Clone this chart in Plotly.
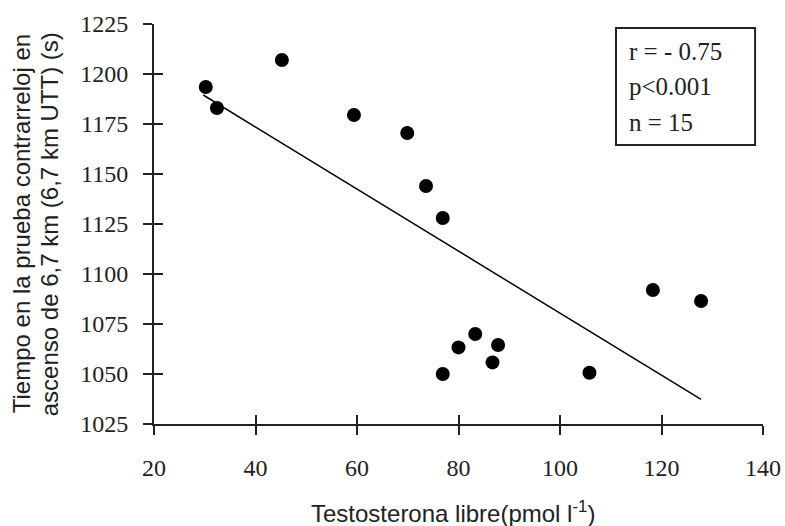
import plotly.graph_objects as go

# Data
testosterona = [30.2, 32.4, 45.2, 59.4, 69.9, 73.6, 76.9, 76.9, 80.0, 83.3, 87.8, 86.7, 105.8, 118.3, 127.8]
tiempo = [1193.5, 1183, 1207, 1179.5, 1170.5, 1144, 1128, 1050, 1063.3, 1070, 1064.5, 1055.8, 1050.6, 1092, 1086.5]
fit_x = [29.7, 127.8]
fit_y = [1189.5, 1037.3]
x_ticks = [20, 40, 60, 80, 100, 120, 140]
y_ticks = [1025, 1050, 1075, 1100, 1125, 1150, 1175, 1200, 1225]
stats_lines = ["r = - 0.75", "p&lt;0.001", "n = 15"]
x_title = "Testosterona libre(pmol l<sup>-1</sup>)"
y_title_lines = ["Tiempo en la prueba contrarreloj en", "ascenso de 6,7 km (6,7 km UTT) (s)"]

SERIF = "Liberation Serif"
SANS = "Liberation Sans"

fig = go.Figure()
fig.add_trace(go.Scatter(x=fit_x, y=fit_y, mode="lines",
                         line=dict(color="black", width=1.5), showlegend=False, hoverinfo="skip"))
fig.add_trace(go.Scatter(x=testosterona, y=tiempo, mode="markers",
                         marker=dict(color="black", size=14), showlegend=False))
# invisible trace on overlay axes (for inside tick marks)
fig.add_trace(go.Scatter(x=[x_ticks[0]], y=[y_ticks[0]], xaxis="x2", yaxis="y2",
                         mode="markers", marker=dict(opacity=0), showlegend=False, hoverinfo="skip"))

axis_common = dict(showgrid=False, zeroline=False, showline=True, linecolor="#222",
                   linewidth=2, tickcolor="#222", tickwidth=1.5, ticklen=9, automargin=False)

fig.update_layout(
    width=785, height=526,
    margin=dict(l=154, r=22, t=24, b=102),
    paper_bgcolor="white", plot_bgcolor="white",
    xaxis=dict(range=[20, 140], tickvals=x_ticks, ticks="outside",
               tickfont=dict(family=SERIF, size=24, color="#222"),
               ticklabelstandoff=12, **axis_common),
    yaxis=dict(range=[1025, 1225], tickvals=y_ticks, ticks="outside",
               tickfont=dict(family=SERIF, size=24, color="#222"),
               ticklabelstandoff=10, **axis_common),
    xaxis2=dict(range=[20, 140], tickvals=x_ticks, ticks="inside", overlaying="x",
                anchor="y2", side="bottom", showticklabels=False, **axis_common),
    yaxis2=dict(range=[1025, 1225], tickvals=y_ticks, ticks="inside", overlaying="y",
                anchor="x2", side="left", showticklabels=False, **axis_common),
)

# stats box
fig.add_shape(type="rect", xref="paper", yref="paper", x0=0.7586, x1=0.987, y0=0.6975, y1=0.99,
              line=dict(color="#222", width=2), fillcolor="white", layer="above")
for txt, yy in zip(stats_lines, [0.93, 0.8425, 0.755]):
    fig.add_annotation(text=txt, xref="paper", yref="paper", x=0.777, y=yy,
                       xanchor="left", yanchor="middle", showarrow=False,
                       font=dict(family=SERIF, size=25, color="#222"))

# axis titles
fig.add_annotation(text=x_title, xref="paper", yref="paper", x=0.491, y=-0.22,
                   xanchor="center", yanchor="middle", showarrow=False,
                   font=dict(family=SANS, size=24, color="#222"))
for txt, xx in zip(y_title_lines, [-0.218, -0.172]):
    fig.add_annotation(text=txt, xref="paper", yref="paper", x=xx, y=0.5,
                       xanchor="center", yanchor="middle", textangle=-90, showarrow=False,
                       font=dict(family=SANS, size=24, color="#222"))

fig.write_html("out.html")
